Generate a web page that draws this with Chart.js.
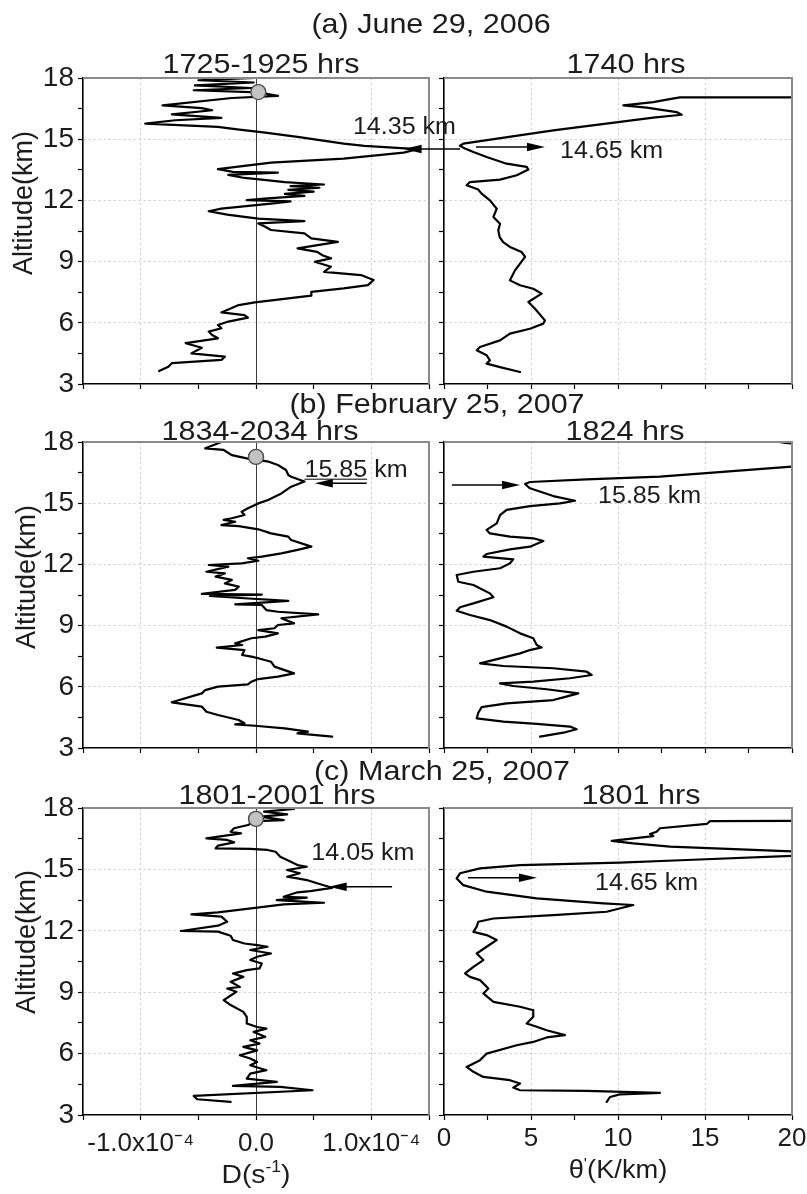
<!DOCTYPE html>
<html><head><meta charset="utf-8">
<script src="https://cdn.jsdelivr.net/npm/chart.js@4.4.1/dist/chart.umd.min.js"></script>
<style>
html,body{margin:0;padding:0;background:#fff;}
#wrap{position:relative;width:807px;height:1194px;overflow:hidden;background:#fff;}
#wrap canvas{position:absolute;left:0;top:0;}
</style></head><body><div id="wrap"></div>
<script>
// ---------------- DATA ----------------
// profiles: [altitude km, value]; D in units of 1e-4 s^-1, theta' in K/km
const profileA_D = [[18.00,-0.01],[17.89,-0.50],[17.78,-0.02],[17.64,-0.53],[17.51,-0.04],[17.40,-0.54],[17.30,0.02],[17.12,0.19],[17.02,-0.21],[16.66,-0.81],[16.52,-0.47],[16.42,-0.38],[16.22,-0.73],[16.05,-0.30],[15.93,-0.70],[15.76,-0.96],[15.60,-0.33],[15.49,-0.18],[15.32,0.08],[15.11,0.36],[14.78,0.76],[14.67,0.94],[14.51,1.40],[14.34,1.28],[14.05,0.76],[13.85,0.13],[13.53,-0.33],[13.40,-0.20],[13.36,0.19],[13.25,-0.24],[13.10,-0.10],[13.02,0.05],[12.90,0.25],[12.78,0.59],[12.70,0.30],[12.62,0.55],[12.52,0.28],[12.43,0.50],[12.32,0.25],[12.22,0.42],[12.10,0.10],[12.01,-0.08],[11.95,0.30],[11.85,0.15],[11.60,-0.30],[11.47,-0.41],[11.30,-0.25],[11.19,-0.10],[11.11,0.02],[10.98,0.42],[10.87,0.02],[10.71,0.08],[10.55,0.13],[10.38,0.42],[10.14,0.48],[9.97,0.71],[9.65,0.36],[9.48,0.53],[9.30,0.58],[9.16,0.65],[8.99,0.51],[8.75,0.65],[8.50,0.59],[8.34,0.91],[8.10,1.02],[7.85,0.97],[7.69,0.76],[7.52,0.48],[7.33,0.48],[7.00,-0.01],[6.87,-0.15],[6.51,-0.30],[6.38,-0.10],[6.25,-0.07],[6.06,-0.24],[5.89,-0.33],[5.73,-0.30],[5.57,-0.41],[5.40,-0.38],[5.24,-0.33],[5.00,-0.61],[4.78,-0.47],[4.50,-0.56],[4.34,-0.27],[4.18,-0.30],[4.02,-0.73],[3.85,-0.76],[3.64,-0.84]];
const profileA_T = [[17.04,30],[17.05,13.56],[16.95,12.89],[16.82,12.03],[16.66,10.31],[16.55,11.65],[16.33,13.37],[16.20,13.66],[16.06,12.03],[15.43,6.28],[14.78,1.11],[14.68,0.92],[14.54,1.21],[14.37,1.69],[14.13,2.45],[13.80,3.60],[13.64,4.75],[13.51,4.85],[13.23,4.18],[13.02,3.22],[12.90,1.49],[12.74,1.30],[12.53,1.97],[12.33,2.16],[12.00,2.64],[11.59,3.03],[11.19,2.84],[10.86,3.22],[10.53,3.12],[10.20,3.20],[9.95,3.40],[9.72,3.79],[9.47,4.46],[9.23,4.66],[8.90,4.37],[8.57,4.08],[8.08,3.79],[7.84,4.37],[7.67,5.13],[7.43,5.61],[7.02,4.85],[6.69,5.23],[6.12,5.80],[5.96,5.71],[5.71,4.94],[5.47,3.79],[5.14,3.22],[4.81,2.07],[4.65,1.88],[4.41,2.45],[4.16,2.64],[4.00,2.45],[3.83,3.22],[3.59,4.37]];
const profileB_D = [[18.00,-0.30],[17.69,-0.44],[17.61,-0.28],[17.36,-0.21],[17.20,-0.08],[17.10,0.05],[17.04,0.105],[16.87,0.19],[16.63,0.26],[16.38,0.28],[16.30,0.305],[16.06,0.42],[15.81,0.305],[15.48,0.22],[15.16,0.105],[14.99,0.02],[14.75,-0.07],[14.58,-0.125],[14.42,-0.10],[14.26,-0.21],[14.18,-0.28],[14.09,-0.18],[13.93,-0.30],[13.88,-0.15],[13.72,0.02],[13.52,0.13],[13.36,0.28],[13.20,0.305],[12.87,0.48],[12.71,0.36],[12.54,0.22],[12.38,0.05],[12.30,-0.07],[12.18,0.02],[12.05,-0.125],[11.97,-0.41],[11.89,-0.24],[11.64,-0.43],[11.56,-0.27],[11.40,-0.35],[11.24,-0.21],[11.07,-0.27],[10.91,-0.15],[10.75,-0.18],[10.56,-0.47],[10.52,0.05],[10.45,-0.40],[10.34,-0.10],[10.21,0.28],[10.04,-0.18],[10.01,0.05],[9.76,0.09],[9.68,0.19],[9.55,0.54],[9.36,0.22],[9.11,0.33],[9.03,0.19],[8.87,0.16],[8.78,0.02],[8.62,0.19],[8.46,0.08],[8.38,-0.04],[8.13,-0.18],[8.05,-0.12],[7.92,-0.34],[7.80,-0.10],[7.56,-0.12],[7.48,-0.04],[7.40,0.02],[7.23,0.13],[6.99,0.16],[6.66,0.33],[6.50,0.19],[6.38,0.02],[6.25,-0.04],[6.12,-0.07],[6.01,-0.33],[5.84,-0.44],[5.68,-0.47],[5.24,-0.73],[5.03,-0.47],[4.78,-0.43],[4.62,-0.33],[4.37,-0.15],[4.21,-0.10],[4.16,-0.18],[4.09,-0.01],[3.96,0.25],[3.80,0.45],[3.72,0.36],[3.56,0.66]];
const profileB_T = [[18.02,19.2],[17.95,19.6],[17.88,21.0],[17.30,30.0],[16.82,22.0],[16.79,19.98],[16.30,12.41],[16.17,8.20],[16.04,4.94],[15.94,4.66],[15.73,4.94],[15.35,6.28],[15.12,7.53],[14.99,6.67],[14.86,4.94],[14.67,3.60],[14.42,3.22],[14.01,3.03],[13.69,2.45],[13.52,2.64],[13.36,3.79],[13.28,5.13],[13.15,5.71],[12.87,4.94],[12.74,3.79],[12.51,2.45],[12.38,2.26],[12.25,3.98],[12.05,3.79],[11.81,3.22],[11.64,1.69],[11.48,0.73],[11.15,0.82],[10.99,1.69],[10.58,2.64],[10.39,2.84],[10.09,1.69],[9.90,0.92],[9.73,0.73],[9.52,1.49],[9.27,2.64],[8.95,3.60],[8.62,4.37],[8.38,5.13],[8.05,5.33],[7.93,5.61],[7.80,4.94],[7.64,4.37],[7.15,2.07],[7.02,3.41],[6.91,6.28],[6.74,8.20],[6.58,8.49],[6.42,7.24],[6.25,5.13],[6.17,3.22],[6.04,3.98],[5.88,5.90],[5.68,7.72],[5.48,6.86],[5.35,6.28],[5.19,3.60],[5.00,2.16],[4.73,1.97],[4.45,1.88],[4.29,3.41],[4.18,5.33],[4.05,7.24],[3.92,7.62],[3.75,6.86],[3.56,5.52]];
const profileC_D = [[17.95,0.33],[17.82,0.07],[17.69,0.27],[17.58,0.04],[17.41,0.24],[17.36,0.00],[17.17,-0.07],[17.01,-0.19],[16.84,-0.22],[16.76,-0.13],[16.52,-0.43],[16.44,-0.25],[16.32,-0.19],[16.16,-0.33],[16.03,-0.35],[16.00,-0.05],[15.95,0.10],[15.86,0.17],[15.62,0.21],[15.46,0.27],[15.21,0.36],[15.13,0.44],[14.97,0.27],[14.81,0.38],[14.64,0.27],[14.56,0.36],[14.48,0.44],[14.32,0.53],[14.10,0.66],[13.94,0.47],[13.88,0.36],[13.66,0.24],[13.62,0.44],[13.50,0.18],[13.37,0.59],[13.29,0.24],[13.13,0.01],[12.90,-0.33],[12.80,-0.56],[12.69,-0.30],[12.44,-0.25],[12.25,-0.33],[11.99,-0.65],[11.96,-0.33],[11.76,-0.22],[11.55,-0.20],[11.38,-0.10],[11.30,0.01],[11.22,0.10],[11.06,-0.05],[10.89,0.13],[10.73,0.01],[10.57,-0.05],[10.40,0.05],[10.16,0.03],[10.08,-0.08],[9.91,-0.20],[9.75,-0.11],[9.51,-0.22],[9.26,-0.14],[9.18,-0.25],[9.02,-0.17],[8.61,-0.28],[8.37,-0.22],[8.04,-0.11],[7.79,-0.08],[7.47,-0.08],[7.30,0.01],[7.22,0.09],[7.06,-0.02],[6.82,0.08],[6.65,-0.05],[6.49,0.03],[6.33,-0.11],[6.16,0.01],[5.92,-0.14],[5.76,-0.05],[5.59,0.01],[5.43,-0.05],[5.19,0.09],[5.02,-0.05],[4.78,-0.08],[4.62,0.18],[4.42,-0.20],[4.37,0.21],[4.21,0.49],[3.93,-0.54],[3.77,-0.51],[3.64,-0.22]];
const profileC_T = [[17.38,25.0],[17.36,15.29],[17.22,15.10],[17.01,12.41],[16.84,12.22],[16.73,11.84],[16.63,12.03],[16.39,9.64],[16.27,10.88],[16.11,12.99],[15.95,17.78],[15.86,20.6],[15.68,20.6],[15.46,13.95],[15.33,10.11],[15.21,4.37],[15.05,2.07],[14.81,0.92],[14.56,0.73],[14.23,1.11],[13.91,2.45],[13.58,5.33],[13.34,9.16],[13.26,10.88],[12.93,9.35],[12.77,6.28],[12.60,2.84],[12.44,1.97],[12.20,1.88],[11.95,1.69],[11.79,2.45],[11.55,3.03],[11.22,2.45],[10.89,1.88],[10.57,2.26],[10.24,1.69],[9.92,1.21],[9.75,1.49],[9.59,2.07],[9.18,2.55],[8.94,2.26],[8.53,2.84],[8.29,4.37],[8.12,5.13],[7.80,5.13],[7.47,4.75],[7.31,5.33],[7.14,5.90],[6.90,6.95],[6.79,5.90],[6.57,5.13],[6.41,4.18],[6.00,2.45],[5.68,2.07],[5.35,1.30],[5.11,1.69],[4.86,2.26],[4.70,3.79],[4.54,4.37],[4.34,3.98],[4.21,4.37],[4.18,8.20],[4.08,12.41],[4.01,10.11],[3.88,9.54],[3.64,9.35]];
// tropopause markers [D, altitude]
const markerA = [0.02, 17.31];
const markerB = [0.00, 17.27];
const markerC = [0.00, 17.47];
// tick labels
const altTickValues = [3, 6, 9, 12, 15, 18];
const dTickValues = [-1, 0, 1];
const dTickLabels = ['-1.0x10\u207B\u2074', '0.0', '1.0x10\u207B\u2074'];
const thetaTickValues = [0, 5, 10, 15, 20];
const thetaTickLabels = ['0', '5', '10', '15', '20'];
// titles
const rowTitles = ['(a) June 29, 2006', '(b) February 25, 2007', '(c) March 25, 2007'];
const leftTitles = ['1725-1925 hrs', '1834-2034 hrs', '1801-2001 hrs'];
const rightTitles = ['1740 hrs', '1824 hrs', '1801 hrs'];
// annotations: label text, label left x & baseline alt (data), arrow alt, arrow tail x, arrow tip x (data)
const annA_D = {text:'14.35 km', x:0.84, y:15.24, ay:14.52, from:1.77, tip:1.28};
const annA_T = {text:'14.65 km', x:6.67, y:14.07, ay:14.62, from:1.84, tip:5.80};
const annB_D = {text:'15.85 km', x:0.42, y:16.30, ay:15.98, from:0.96, tip:0.51, underline:'15.85'};
const annB_T = {text:'15.85 km', x:8.85, y:15.01, ay:15.89, from:0.46, tip:4.37};
const annC_D = {text:'14.05 km', x:0.48, y:15.46, ay:14.15, from:1.18, tip:0.63};
const annC_T = {text:'14.65 km', x:8.68, y:13.99, ay:14.59, from:1.38, tip:5.34};

// ---------------- LAYOUT / STYLE ----------------
const PAGE_W = 807, PAGE_H = 1194;
const FONT = '"Liberation Sans", Arial, Helvetica, sans-serif';
const SX = 1.09; // horizontal stretch of the original lettering
const TXT = '#1c1c1c';
const rowsPx = [{top:78, bottom:384}, {top:442, bottom:748}, {top:808, bottom:1115}];
const colsPx = [{left:83, right:429}, {left:444, right:792}];
const rowTitlePos = [{x:431, y:33}, {x:437, y:413}, {x:442, y:780}];
const leftTitlePos = [{x:261, y:73}, {x:260, y:440}, {x:277, y:804}];
const rightTitlePos = [{x:626, y:73}, {x:625, y:440}, {x:641, y:804}];
const yTitlePos = [{x:25, y:203}, {x:28, y:577}, {x:28, y:942}];

const wrap = document.getElementById('wrap');
const near = (a, b) => Math.abs(a - b) < 1e-7;
const GRID = '#cacaca';
const NONE = 'rgba(0,0,0,0)';

function textS(ctx, text, x, y, size, align) {
  ctx.save();
  ctx.font = size + 'px ' + FONT;
  ctx.textAlign = 'left';
  ctx.textBaseline = 'alphabetic';
  const w = ctx.measureText(text).width * SX;
  const x0 = align === 'center' ? x - w / 2 : (align === 'right' ? x - w : x);
  ctx.translate(x0, y);
  ctx.scale(SX, 1);
  ctx.fillText(text, 0, 0);
  ctx.restore();
  return {x0, w};
}
function richS(ctx, parts, cx, y, size) {
  ctx.save();
  ctx.textBaseline = 'alphabetic';
  ctx.textAlign = 'left';
  let total = 0;
  const ms = parts.map(p => { const s = p.sup ? size * 0.62 : size; ctx.font = s + 'px ' + FONT; const w = ctx.measureText(p.t).width * SX; total += w; return {s, w}; });
  let x = cx - total / 2;
  parts.forEach((p, i) => {
    ctx.save();
    ctx.font = ms[i].s + 'px ' + FONT;
    ctx.translate(x, y - (p.sup ? size * 0.42 : 0));
    ctx.scale(SX, 1);
    ctx.fillText(p.t, 0, 0);
    ctx.restore();
    x += ms[i].w;
  });
  ctx.restore();
}
function arrow(ctx, x0, xt, y) {
  const dir = xt > x0 ? 1 : -1;
  const L = 18, hw = 4.2;
  ctx.save();
  ctx.strokeStyle = '#000'; ctx.fillStyle = '#000'; ctx.lineWidth = 1.6;
  ctx.beginPath(); ctx.moveTo(x0, y); ctx.lineTo(xt - dir * L * 0.6, y); ctx.stroke();
  ctx.beginPath(); ctx.moveTo(xt, y); ctx.lineTo(xt - dir * L, y - hw); ctx.lineTo(xt - dir * L, y + hw); ctx.closePath(); ctx.fill();
  ctx.restore();
}

function makePanel(cfg) {
  const canvas = document.createElement('canvas');
  canvas.width = PAGE_W; canvas.height = PAGE_H;
  canvas.style.width = PAGE_W + 'px'; canvas.style.height = PAGE_H + 'px';
  wrap.appendChild(canvas);
  const col = colsPx[cfg.col], row = rowsPx[cfg.row];
  const isD = cfg.col === 0;
  const showX = cfg.row === 2;
  const YW = isD ? 70 : 10, XH = 70;
  const datasets = [];
  if (cfg.marker) datasets.push({
    data: [{x: cfg.marker[0], y: cfg.marker[1]}], showLine: false,
    pointRadius: 7.5, pointBackgroundColor: '#c2c2c2', pointBorderColor: '#4d4d4d', pointBorderWidth: 1.4
  });
  datasets.push({
    data: cfg.profile.map(p => ({x: p[1], y: p[0]})),
    borderColor: '#000', borderWidth: 2.2, pointRadius: 0, tension: 0, fill: false,
    borderJoinStyle: 'round', borderCapStyle: 'round'
  });
  const xVals = isD ? dTickValues : thetaTickValues;
  const xLabs = isD ? dTickLabels : thetaTickLabels;
  const decor = {
    id: 'decor',
    afterDraw(chart) {
      const {ctx, chartArea: a, scales: {x, y}} = chart;
      ctx.save();
      // gray top / right frame
      ctx.strokeStyle = '#8a8a8a'; ctx.lineWidth = 2;
      ctx.beginPath(); ctx.moveTo(a.left, a.top); ctx.lineTo(a.right, a.top); ctx.lineTo(a.right, a.bottom); ctx.stroke();
      ctx.fillStyle = TXT;
      const tp = isD ? leftTitlePos[cfg.row] : rightTitlePos[cfg.row];
      textS(ctx, isD ? leftTitles[cfg.row] : rightTitles[cfg.row], tp.x, tp.y, 28, 'center');
      if (isD) {
        const rp = rowTitlePos[cfg.row];
        textS(ctx, rowTitles[cfg.row], rp.x, rp.y, 28, 'center');
        const yp = yTitlePos[cfg.row];
        ctx.save();
        ctx.translate(yp.x, yp.y); ctx.rotate(-Math.PI / 2);
        ctx.font = '27px ' + FONT; ctx.textAlign = 'center'; ctx.textBaseline = 'middle';
        ctx.fillText('Altitude(km)', 0, 0);
        ctx.restore();
      }
      if (showX) {
        const cx = (a.left + a.right) / 2;
        if (isD) richS(ctx, [{t:'D(s'}, {t:'-1', sup:true}, {t:')'}], cx, 1183, 26);
        else richS(ctx, [{t:'\u03B8'}, {t:'\'', sup:true}, {t:'(K/km)'}], cx, 1178, 25);
      }
      const an = cfg.ann;
      if (an) {
        const lx = x.getPixelForValue(an.x), ly = y.getPixelForValue(an.y);
        const r = textS(ctx, an.text, lx, ly, 23, 'left');
        if (an.underline) {
          ctx.font = '23px ' + FONT;
          const uw = ctx.measureText(an.underline).width * SX;
          ctx.strokeStyle = '#000'; ctx.lineWidth = 1;
          ctx.beginPath(); ctx.moveTo(r.x0, ly + 2.5); ctx.lineTo(r.x0 + uw, ly + 2.5); ctx.stroke();
        }
        arrow(ctx, x.getPixelForValue(an.from), x.getPixelForValue(an.tip), y.getPixelForValue(an.ay));
      }
      ctx.restore();
    }
  };
  return new Chart(canvas, {
    type: 'line',
    data: {datasets},
    options: {
      responsive: false, animation: false, devicePixelRatio: 1, events: [],
      layout: {padding: {left: col.left - YW, right: PAGE_W - col.right, top: row.top, bottom: PAGE_H - row.bottom - XH}},
      plugins: {legend: {display: false}, tooltip: {enabled: false}, title: {display: false}},
      scales: {
        x: {
          type: 'linear', min: isD ? -1.5 : 0, max: isD ? 1.5 : 20,
          ticks: {
            stepSize: isD ? 0.5 : 2.5, autoSkip: false, maxRotation: 0, minRotation: 0,
            display: showX, color: TXT, padding: isD ? 8 : 3,
            font: {family: FONT, size: 26},
            callback: v => { const i = xVals.findIndex(t => near(t, v)); return i >= 0 ? xLabs[i] : ''; }
          },
          grid: {
            color: c => { if (!c.tick) return NONE; const v = c.tick.value;
              if (isD) { if (near(v, 0)) return '#3c3c3c'; if (near(Math.abs(v), 1)) return GRID; return NONE; }
              return (near(v, 5) || near(v, 10) || near(v, 15)) ? GRID : NONE; },
            lineWidth: 1, drawTicks: true, tickLength: 5, tickColor: '#000', tickWidth: 1.2
          },
          border: {display: true, color: '#000', width: 1.6,
            dash: c => (c.tick && near(c.tick.value, 0) && isD) ? [] : [2, 3]},
          afterFit: s => { s.height = XH; s.paddingLeft = 0; s.paddingRight = 0; }
        },
        y: {
          type: 'linear', min: 3, max: 18,
          ticks: {
            stepSize: 1.5, autoSkip: false, display: isD, color: TXT, padding: 4,
            font: {family: FONT, size: 28},
            callback: v => altTickValues.some(t => near(t, v)) ? String(v) : ''
          },
          grid: {
            color: c => { if (!c.tick) return NONE; const v = c.tick.value;
              return (near(v, 6) || near(v, 9) || near(v, 12) || near(v, 15)) ? GRID : NONE; },
            lineWidth: 1, drawTicks: true, tickLength: 5, tickColor: '#000', tickWidth: 1.2
          },
          border: {display: true, color: '#000', width: 1.6, dash: [2, 3]},
          afterFit: s => { s.width = YW; s.paddingTop = 0; s.paddingBottom = 0; }
        }
      }
    },
    plugins: [decor]
  });
}

const panels = [
  {row:0, col:0, profile: profileA_D, marker: markerA, ann: annA_D},
  {row:0, col:1, profile: profileA_T, ann: annA_T},
  {row:1, col:0, profile: profileB_D, marker: markerB, ann: annB_D},
  {row:1, col:1, profile: profileB_T, ann: annB_T},
  {row:2, col:0, profile: profileC_D, marker: markerC, ann: annC_D},
  {row:2, col:1, profile: profileC_T, ann: annC_T}
];
panels.forEach(makePanel);
</script></body></html>
